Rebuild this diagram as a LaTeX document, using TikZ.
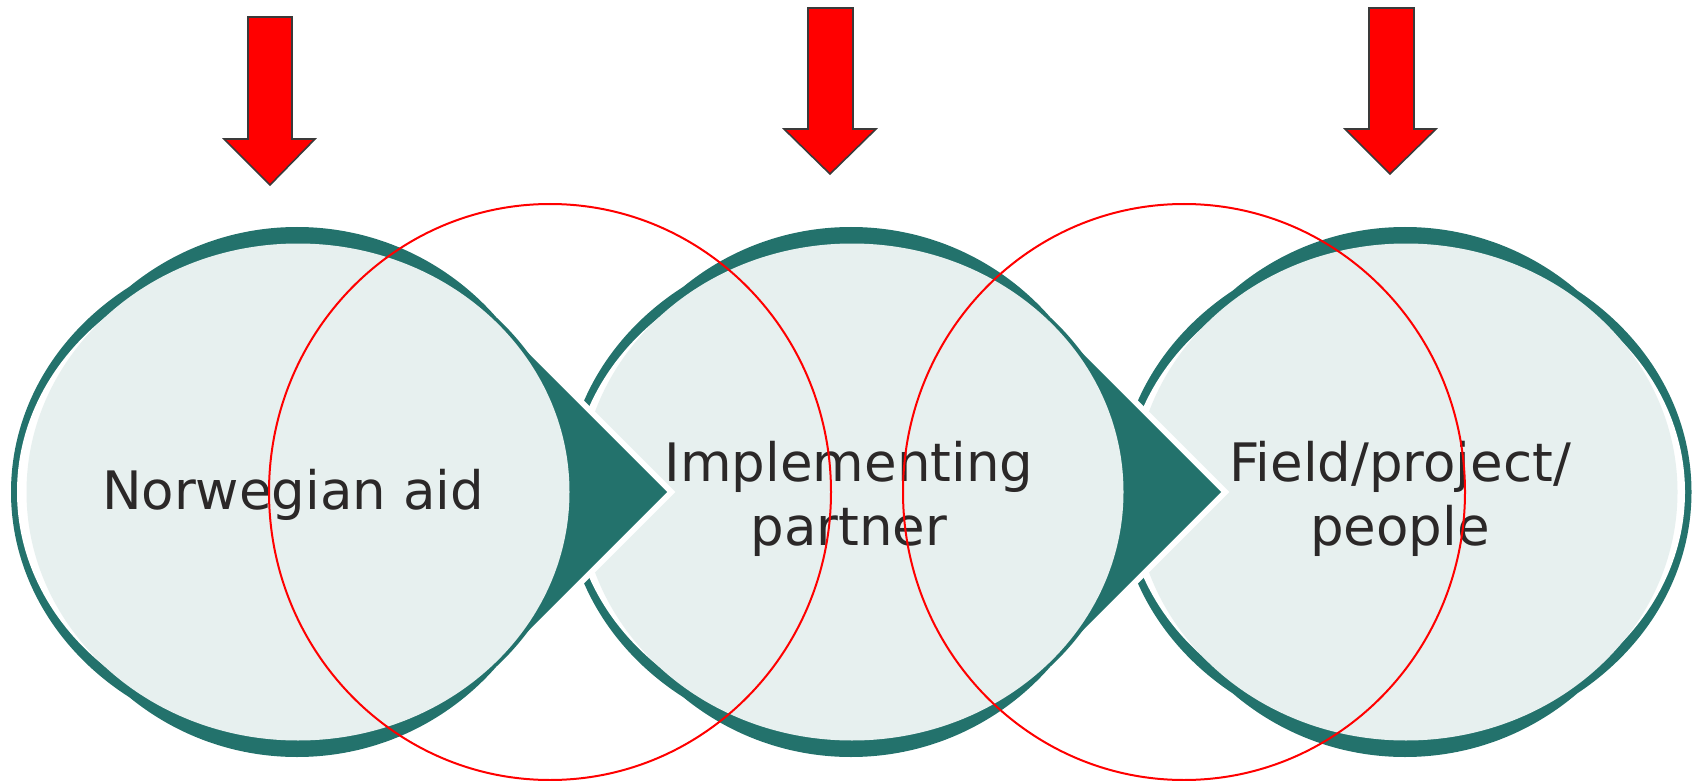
\documentclass[tikz,border=0pt]{standalone}
\usepackage{fontspec}
\setmainfont{DejaVu Sans}
\definecolor{teal1}{HTML}{23726C}
\definecolor{paleteal}{HTML}{E7F0EF}
\definecolor{txt}{HTML}{2B2828}
\definecolor{arrowline}{HTML}{3A3A3A}
\begin{document}
\begin{tikzpicture}[x=0.5pt,y=-0.5pt,
  outerring/.style={fill=teal1},
  gapring/.style={fill=white},
  innerdisc/.style={fill=paleteal},
  chevwhite/.style={draw=white,fill=white,line width=6pt,line join=miter},
  chevteal/.style={fill=teal1},
  redring/.style={draw=red,line width=1pt},
  downarrow/.style={fill=red,draw=arrowline,line width=0.8pt,line join=miter},
  lbl/.style={text=txt,font=\fontsize{26.5pt}{31.8pt}\selectfont,inner sep=0pt,align=center}]
\useasboundingbox (0,0) rectangle (1699,781);
% ---------- unit 3 ----------
\path[outerring] (1405,492) circle [radius=132.5pt] (1405,492) ellipse [x radius=143.25pt, y radius=126pt];
\path[gapring] (1405,492) ellipse [x radius=140pt, y radius=119pt];
\path[innerdisc] (1406,492) ellipse [x radius=135.75pt, y radius=124.25pt];
% chevron 2 white outline
\path[chevwhite] (1221,492) -- (1051,322) -- (951,492) -- (1051,662) -- cycle;
% ---------- unit 2 ----------
\path[outerring] (851,492) circle [radius=132.5pt] (847,492) ellipse [x radius=141pt, y radius=126pt];
\path[gapring] (846,492) ellipse [x radius=137.5pt, y radius=119pt];
\path[chevteal] (1221,492) -- (1051,322) -- (951,492) -- (1051,662) -- cycle;
\path[innerdisc] (852,492) ellipse [x radius=135.75pt, y radius=124.25pt];
% chevron 1 white outline
\path[chevwhite] (667,492) -- (497,322) -- (397,492) -- (497,662) -- cycle;
% ---------- unit 1 ----------
\path[outerring] (297,492) circle [radius=132.5pt] (293,492) ellipse [x radius=141pt, y radius=126pt];
\path[gapring] (292,492) ellipse [x radius=137.5pt, y radius=119pt];
\path[chevteal] (667,492) -- (497,322) -- (397,492) -- (497,662) -- cycle;
\path[innerdisc] (298,492) ellipse [x radius=135.75pt, y radius=124.25pt];
% ---------- labels ----------
\node[lbl,anchor=base] (t1) at (293,509) {Norwegian aid};
\node[lbl,anchor=north] (t2) at (849,441) {Implementing\\partner};
\node[lbl,anchor=north] (t3) at (1400,441) {Field/project/\\people};
% ---------- red circles ----------
\path[redring] (550,492) ellipse [x radius=140.5pt, y radius=144pt];
\path[redring] (1184,492) ellipse [x radius=140.5pt, y radius=144pt];
% ---------- red arrows ----------
\path[downarrow] (248,17) -- (292,17) -- (292,139) -- (315,139) -- (270,185) -- (224,139) -- (248,139) -- cycle;
\path[downarrow] (808,8) -- (853,8) -- (853,129) -- (876,129) -- (830,174) -- (784,129) -- (808,129) -- cycle;
\path[downarrow] (1369,8) -- (1414,8) -- (1414,129) -- (1436,129) -- (1390,174) -- (1345,129) -- (1369,129) -- cycle;
\end{tikzpicture}
\end{document}
